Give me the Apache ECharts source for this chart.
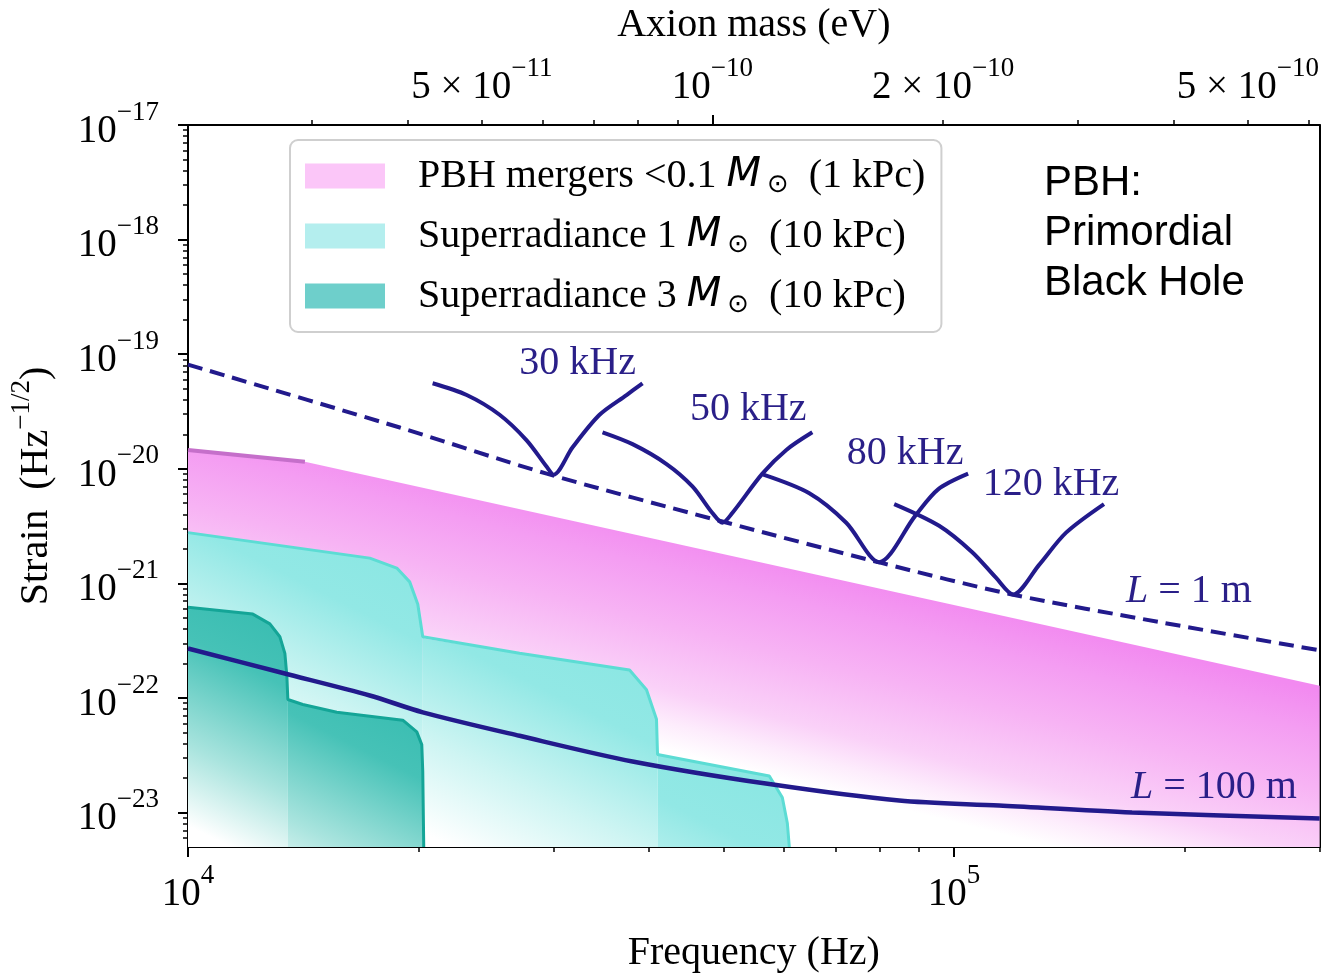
<!DOCTYPE html>
<html><head><meta charset="utf-8">
<script src="https://cdn.jsdelivr.net/npm/echarts@6/dist/echarts.min.js"></script>
<style>html,body{margin:0;padding:0;background:#fff}#c{width:1322px;height:978px}</style>
</head><body><div id="c"></div><script>
// ---------------- data ----------------
const freqMin = 1e4, freqMax = 3e5;          // Hz
const strainMin = 5e-24, strainMax = 1e-17;  // Hz^-1/2
const hzPerEv = 2 / 4.135667e-15;            // GW frequency = 2 m / h

const xMajorTicks = [1e4, 1e5];
const xMinorTicks = [2e4, 3e4, 4e4, 5e4, 6e4, 7e4, 8e4, 9e4, 2e5, 3e5];
const yMajorExps = [-23, -22, -21, -20, -19, -18, -17];
const massLabelTicks = [5e-11, 1e-10, 2e-10, 5e-10];
const massLabelText = ['5 × 10', '10', '2 × 10', '5 × 10'];
const massLabelExp = ['−11', '−10', '−10', '−10'];
const massMajorTicks = [1e-10];
const massMinorTicks = [3e-11, 4e-11, 5e-11, 6e-11, 7e-11, 8e-11, 9e-11, 2e-10, 3e-10, 4e-10, 5e-10, 6e-10];

// PBH mergers region (upper boundary) and its darker edge
const pbhTop = [[1e4, 1.46e-20], [1.421e4, 1.15e-20], [3e5, 1.28e-22]];
const pbhEdge = [[1e4, 1.46e-20], [1.421e4, 1.15e-20]];

// Superradiance 1 Msun: three plateaus
const sr1Step1 = [[1e4, 2.77e-21], [1.727e4, 1.66e-21], [1.873e4, 1.36e-21], [1.947e4, 1.03e-21], [1.995e4, 6.56e-22], [2.025e4, 3.42e-22]];
const sr1Step2 = [[2.025e4, 3.42e-22], [2.037e4, 3.29e-22], [2.709e4, 2.45e-22], [3.770e4, 1.75e-22], [3.967e4, 1.18e-22], [4.088e4, 6.52e-23], [4.101e4, 3.21e-23]];
const sr1Step3 = [[4.101e4, 3.21e-23], [5.738e4, 2.08e-23], [5.967e4, 1.35e-23], [6.058e4, 8.05e-24], [6.094e4, 5.0e-24]];

// Superradiance 3 Msun: two plateaus
const sr3Step1 = [[1e4, 6.19e-22], [1.215e4, 5.39e-22], [1.279e4, 4.43e-22], [1.318e4, 3.42e-22], [1.338e4, 2.45e-22], [1.346e4, 1.55e-22], [1.350e4, 9.68e-23]];
const sr3Step2 = [[1.350e4, 9.68e-23], [1.412e4, 8.77e-23], [1.564e4, 7.49e-23], [1.907e4, 6.39e-23], [1.989e4, 5.05e-23], [2.019e4, 3.91e-23], [2.025e4, 2.29e-23], [2.031e4, 5.0e-24]];

// Sensitivity curves
const L1mCurve = [[1e4, 8.11e-20], [1.89e4, 2.29e-20], [2.939e4, 9.06e-21], [4.939e4, 3.52e-21], [8.055e4, 1.50e-21], [1.19e5, 8.00e-22], [1.851e5, 4.60e-22], [3e5, 2.60e-22]];
const L100mCurve = [[1e4, 2.70e-22], [1.33e4, 1.65e-22], [1.727e4, 1.05e-22], [2.025e4, 7.49e-23], [2.709e4, 4.67e-23], [3.804e4, 2.79e-23], [5.738e4, 1.77e-23], [8.477e4, 1.27e-23], [1.145e5, 1.15e-23], [1.707e5, 1.0e-23], [3e5, 8.88e-24]];

// Resonant curves
const res30k = [[2.086e4, 5.57e-20], [2.311e4, 4.40e-20], [2.551e4, 2.96e-20], [2.767e4, 1.77e-20], [2.939e4, 1.04e-20], [3.001e4, 8.88e-21], [3.177e4, 1.54e-20], [3.445e4, 2.96e-20], [3.736e4, 4.40e-20], [3.920e4, 5.57e-20]];
const res50k = [[3.476e4, 2.08e-20], [3.804e4, 1.64e-20], [4.213e4, 1.10e-20], [4.554e4, 7.02e-21], [4.836e4, 4.11e-21], [4.984e4, 3.38e-21], [5.134e4, 4.11e-21], [5.620e4, 9.06e-21], [6.039e4, 1.46e-20], [6.530e4, 2.08e-20]];
const res80k = [[5.636e4, 8.88e-21], [6.471e4, 6.11e-21], [7.231e4, 3.38e-21], [7.983e4, 1.53e-21], [8.896e4, 3.88e-21], [9.530e4, 6.61e-21], [1.043e5, 9.06e-21]];
const res120k = [[8.352e4, 4.92e-21], [9.559e4, 3.18e-21], [1.056e5, 1.87e-21], [1.134e5, 1.12e-21], [1.194e5, 8.00e-22], [1.291e5, 1.45e-21], [1.400e5, 2.77e-21], [1.569e5, 4.92e-21]];

// Text annotations (frequency, strain, text)
const annotations = [
  [3.225e4, 8.26e-20, '30 kHz'],
  [5.387e4, 3.27e-20, '50 kHz'],
  [8.631e4, 1.37e-20, '80 kHz'],
  [1.338e5, 7.30e-21, '120 kHz'],
  [2.025e5, 8.49e-22, '{i|L} = 1 m'],
  [2.183e5, 1.64e-23, '{i|L} = 100 m']
];

const legendNames = ['PBH mergers <0.1 M⊙ (1 kPc)', 'Superradiance 1 M⊙ (10 kPc)', 'Superradiance 3 M⊙ (10 kPc)'];

// ---------------- chart ----------------
const lg = Math.log10;
const X0 = lg(freqMin), X1 = lg(freqMax), Y0 = lg(strainMin), Y1 = lg(strainMax);
const serif = 'Liberation Serif';
const navy = '#221a8c';
const textNavy = '#2a1f88';
const toXY = arr => arr.map(p => [lg(p[0]), lg(p[1])]);

const yMinorTicks = [];
for (let e = -24; e <= -18; e++) for (let k = 2; k <= 9; k++) {
  const v = lg(k) + e; if (v > Y0 + 1e-9 && v < Y1) yMinorTicks.push(v);
}

const tickRich = {
  b: { fontFamily: serif, fontSize: 39, color: '#000', verticalAlign: 'bottom', lineHeight: 52 },
  s: { fontFamily: serif, fontSize: 27, color: '#000', verticalAlign: 'top', lineHeight: 52 }
};
const majorTickStyle = { color: '#000', width: 2 };
const minorTickStyle = { color: '#000', width: 1.5 };

function regionSeries(name, steps, stops, fade, slope, z, legendColor) {
  return {
    type: 'custom', name: name, coordinateSystem: 'cartesian2d', z: z, silent: true, clip: true,
    itemStyle: { color: legendColor },
    data: steps.map(s => [lg(s[0][0]), lg(s[0][1])]),
    renderItem: function (params, api) {
      const step = steps[params.dataIndex];
      const pts = step.map(p => api.coord([lg(p[0]), lg(p[1])]));
      const bottom = api.coord([X0, Y0])[1];
      const first = pts[0], last = pts[pts.length - 1];
      const poly = pts.concat([[last[0], bottom], [first[0], bottom]]);
      let maxX = -Infinity, minY = Infinity;
      pts.forEach(p => { if (p[0] > maxX) maxX = p[0]; if (p[1] < minY) minY = p[1]; });
      const n = Math.hypot(slope, 1);
      const g = new echarts.graphic.LinearGradient(maxX, minY, maxX - fade * slope / n, minY + fade / n,
        stops.map(s => ({ offset: s[0], color: s[1] })), true);
      return { type: 'polygon', shape: { points: poly }, style: { fill: g, stroke: null } };
    }
  };
}

function lineSeries(data, color, width, type, z, smooth) {
  return {
    type: 'line', data: toXY(data), symbol: 'none', showSymbol: false, smooth: smooth || false,
    silent: true, z: z, lineStyle: { color: color, width: width, type: type || 'solid' }
  };
}

const pinkStops = [[0, '#f07eee'], [0.52, '#f28af0'], [0.61, '#f49df2'], [0.73, '#f7b3f4'], [0.87, '#fad1f8'], [0.94, '#fdecfc'], [1, '#ffffff']];
const cyanStops = [[0, '#88e6e2'], [0.35, '#92e8e5'], [0.7, '#cff5f3'], [1, '#ffffff']];
const tealStops = [[0, '#36bcb0'], [0.3, '#46c2b7'], [0.7, '#a9e4de'], [1, '#ffffff']];

const series = [
  regionSeries(legendNames[0], [pbhTop], pinkStops, 450, 0.25, 1, '#fbc6f8'),
  lineSeries(pbhEdge, '#c56fca', 4, 'solid', 2),
  regionSeries(legendNames[1], [sr1Step1, sr1Step2, sr1Step3], cyanStops, 280, 0.5, 3, '#b4eeee'),
  lineSeries(sr1Step1.concat(sr1Step2.slice(1), sr1Step3.slice(1)), '#5cdcd4', 3, 'solid', 4),
  regionSeries(legendNames[2], [sr3Step1, sr3Step2], tealStops, 240, 0.5, 5, '#6ecfcb'),
  lineSeries(sr3Step1.concat(sr3Step2.slice(1)), '#14a597', 3, 'solid', 6),
  lineSeries(L1mCurve, navy, 4, [15, 8], 7, 0.3),
  lineSeries(L100mCurve, navy, 4.5, 'solid', 7, 0.3),
  lineSeries(res30k, navy, 4, 'solid', 8, 0.3),
  lineSeries(res50k, navy, 4, 'solid', 8, 0.3),
  lineSeries(res80k, navy, 4, 'solid', 8, 0.3),
  lineSeries(res120k, navy, 4, 'solid', 8, 0.3),
  {
    type: 'scatter', symbolSize: 1, silent: true, z: 9,
    itemStyle: { color: 'rgba(255,255,255,0)', opacity: 1 },
    emphasis: { disabled: true },
    data: annotations.map(a => ({ value: [lg(a[0]), lg(a[1])], name: a[2] })),
    label: {
      show: true, position: 'inside', formatter: '{b}', color: textNavy, opacity: 1,
      textBorderWidth: 0, textBorderColor: 'transparent',
      fontFamily: serif, fontSize: 40,
      rich: { i: { fontFamily: serif, fontStyle: 'italic', fontSize: 40, color: textNavy, textBorderWidth: 0 } }
    }
  }
];

const massVal = m => lg(m * hzPerEv);
const chart = echarts.init(document.getElementById('c'), null, { renderer: 'canvas' });
chart.setOption({
  backgroundColor: '#fff',
  animation: false,
  grid: { left: 188, top: 122, width: 1133, height: 735, containLabel: false },
  xAxis: [
    {
      type: 'value', position: 'bottom', min: X0, max: X1, splitLine: { show: false },
      axisLine: { show: true, onZero: false, lineStyle: { color: '#000', width: 2 } },
      axisTick: { show: true, customValues: xMajorTicks.map(lg), length: 10, lineStyle: majorTickStyle },
      axisLabel: { show: true, customValues: xMajorTicks.map(lg), margin: 15, rich: tickRich,
        formatter: v => '{b|10}{s|' + Math.round(v) + '}' },
      name: 'Frequency (Hz)', nameLocation: 'middle', nameGap: 86,
      nameTextStyle: { fontFamily: serif, fontSize: 40, color: '#000' }
    },
    {
      type: 'value', position: 'bottom', min: X0, max: X1, splitLine: { show: false },
      axisLine: { show: false, onZero: false },
      axisTick: { show: true, customValues: xMinorTicks.map(lg), length: 5, lineStyle: minorTickStyle },
      axisLabel: { show: false }
    },
    {
      type: 'value', position: 'top', min: X0, max: X1, splitLine: { show: false },
      axisLine: { show: true, onZero: false, lineStyle: { color: '#000', width: 2 } },
      axisTick: { show: true, customValues: massMajorTicks.map(massVal), length: 10, lineStyle: majorTickStyle },
      axisLabel: { show: true, customValues: massLabelTicks.map(massVal), margin: 18, rich: tickRich,
        formatter: v => {
          let idx = 0, best = 1e9;
          massLabelTicks.forEach((m, i) => { const d = Math.abs(massVal(m) - v); if (d < best) { best = d; idx = i; } });
          return '{b|' + massLabelText[idx] + '}{s|' + massLabelExp[idx] + '}';
        } },
      name: 'Axion mass (eV)', nameLocation: 'middle', nameGap: 80,
      nameTextStyle: { fontFamily: serif, fontSize: 40, color: '#000' }
    },
    {
      type: 'value', position: 'top', min: X0, max: X1, splitLine: { show: false },
      axisLine: { show: false, onZero: false },
      axisTick: { show: true, customValues: massMinorTicks.map(massVal), length: 5, lineStyle: minorTickStyle },
      axisLabel: { show: false }
    }
  ],
  yAxis: [
    {
      type: 'value', position: 'left', min: Y0, max: Y1, splitLine: { show: false },
      axisLine: { show: true, onZero: false, lineStyle: { color: '#000', width: 2 } },
      axisTick: { show: true, customValues: yMajorExps, length: 10, lineStyle: majorTickStyle },
      axisLabel: { show: true, customValues: yMajorExps, margin: 29, rich: tickRich,
        formatter: v => '{b|10}{s|−' + Math.abs(Math.round(v)) + '}' },
      name: 'Strain  (Hz{s|−1/2})', nameLocation: 'middle', nameGap: 124, nameRotate: 90,
      nameTextStyle: { fontFamily: serif, fontSize: 40, color: '#000', lineHeight: 56,
        rich: { s: { fontFamily: serif, fontSize: 27, color: '#000', verticalAlign: 'top', lineHeight: 56 } } }
    },
    {
      type: 'value', position: 'left', min: Y0, max: Y1, splitLine: { show: false },
      axisLine: { show: false, onZero: false },
      axisTick: { show: true, customValues: yMinorTicks, length: 5, lineStyle: minorTickStyle },
      axisLabel: { show: false }
    },
    {
      type: 'value', position: 'right', min: Y0, max: Y1, splitLine: { show: false },
      axisLine: { show: true, onZero: false, lineStyle: { color: '#000', width: 2 } },
      axisTick: { show: false }, axisLabel: { show: false }
    }
  ],
  legend: {
    orient: 'vertical', left: 290, top: 140, selectedMode: false,
    padding: [14, 16, 14, 15], itemGap: 16, itemWidth: 80, itemHeight: 25, icon: 'rect',
    backgroundColor: 'rgba(255,255,255,0.9)', borderColor: '#cfcfcf', borderWidth: 2, borderRadius: 8,
    data: [
      { name: legendNames[0], itemStyle: { color: '#fbc6f8' } },
      { name: legendNames[1], itemStyle: { color: '#b4eeee' } },
      { name: legendNames[2], itemStyle: { color: '#6ecfcb' } }
    ],
    formatter: name => name.replace('M⊙ ', '{m|M}{o|⊙}  '),
    textStyle: {
      fontFamily: serif, fontSize: 40, color: '#000', lineHeight: 44, padding: [0, 0, 0, 28],
      rich: {
        m: { fontFamily: 'DejaVu Sans', fontStyle: 'italic', fontSize: 40, color: '#000', lineHeight: 44 },
        o: { fontFamily: 'DejaVu Sans', fontSize: 26, color: '#000', verticalAlign: 'bottom', lineHeight: 44, padding: [0, 0, 0, 6] }
      }
    }
  },
  graphic: [{
    type: 'text', left: 1044, top: 158, z: 20,
    style: { text: 'PBH:\nPrimordial\nBlack Hole', font: '42px "Liberation Sans"', lineHeight: 50, fill: '#000' }
  }],
  series: series
});
</script></body></html>
